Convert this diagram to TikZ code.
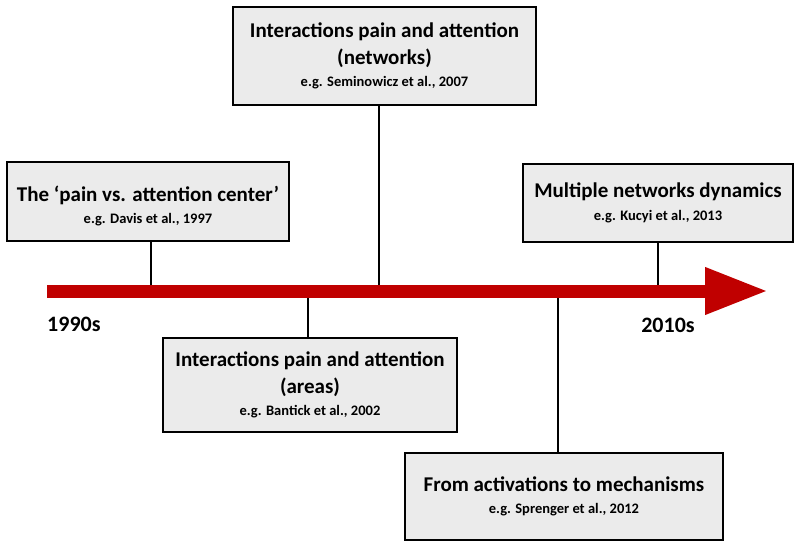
\documentclass[tikz,border=0pt]{standalone}
\usepackage{fontspec}
\setmainfont{Carlito}
\usetikzlibrary{arrows.meta}
\definecolor{boxgray}{HTML}{EBEBEB}
\definecolor{timered}{HTML}{C00000}
\newcommand{\refsize}{\fontsize{14.5}{17}\selectfont}

\begin{document}
\begin{tikzpicture}[x=1pt, y=-1pt,
  event/.style={draw, line width=2.2pt, fill=boxgray, align=center, inner sep=0pt,
    font=\fontsize{21}{26.5}\selectfont\bfseries},
  tick/.style={line width=2pt},
  decade/.style={font=\fontsize{22}{26}\selectfont\bfseries, inner sep=0pt}]
  \useasboundingbox (0,0) rectangle (800,548);

  % points on the timeline
  \coordinate (t0) at (47,291);
  \coordinate (t1) at (768,291);
  \coordinate (y1997) at (151,291);
  \coordinate (y2002) at (308,291);
  \coordinate (y2007) at (379,291);
  \coordinate (y2012) at (558,291);
  \coordinate (y2013) at (658,291);

  % boxes above the line
  \node[event, minimum width=282pt, minimum height=79pt] (davis) at (148,201.5)
    {\rule{0pt}{24pt}The `pain vs. attention center'\\[-4pt]{\refsize e.g. Davis et al., 1997}};
  \node[event, minimum width=303pt, minimum height=98pt] (seminowicz) at (384.5,56)
    {Interactions pain and attention\\(networks)\\[-4pt]{\refsize e.g. Seminowicz et al., 2007}};
  \node[event, minimum width=270pt, minimum height=78pt] (kucyi) at (658,203)
    {Multiple networks dynamics\\[-4pt]{\refsize e.g. Kucyi et al., 2013}};

  % boxes below the line
  \node[event, minimum width=294pt, minimum height=94pt] (bantick) at (310,385)
    {Interactions pain and attention\\(areas)\\[-4pt]{\refsize e.g. Bantick et al., 2002}};
  \node[event, minimum width=318pt, minimum height=87pt] (sprenger) at (564,496.5)
    {From activations to mechanisms\\[-4pt]{\refsize e.g. Sprenger et al., 2012}};

  % ticks
  \draw[tick] (y1997 |- davis.south) -- (y1997);
  \draw[tick] (y2007 |- seminowicz.south) -- (y2007);
  \draw[tick] (y2013 |- kucyi.south) -- (y2013);
  \draw[tick] (y2002 |- bantick.north) -- (y2002);
  \draw[tick] (y2012 |- sprenger.north) -- (y2012);

  % the timeline
  \draw[timered, line width=13pt, -{Triangle[length=63pt, width=44pt]}] (t0) -- (t1);

  \node[decade, anchor=west] (d1990) at (47,324) {1990s};
  \node[decade] (d2010) at (668,325) {2010s};
\end{tikzpicture}
\end{document}
